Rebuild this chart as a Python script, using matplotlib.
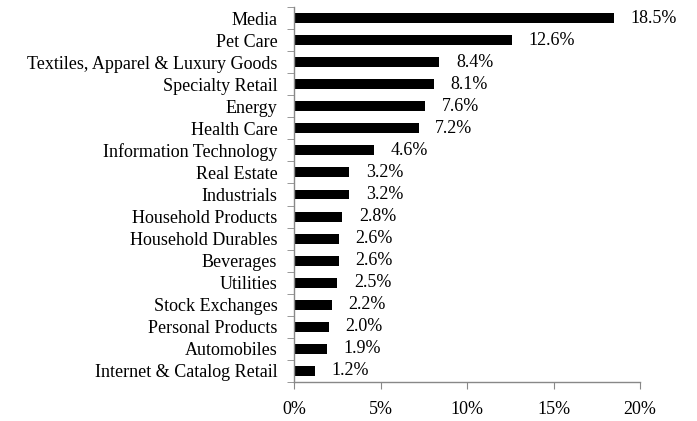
import matplotlib
matplotlib.use("Agg")
import matplotlib.pyplot as plt
import numpy as np
from matplotlib.ticker import FixedLocator

categories = ["Media", "Pet Care", "Textiles, Apparel & Luxury Goods", "Specialty Retail",
              "Energy", "Health Care", "Information Technology", "Real Estate", "Industrials",
              "Household Products", "Household Durables", "Beverages", "Utilities",
              "Stock Exchanges", "Personal Products", "Automobiles", "Internet & Catalog Retail"]
values = [18.5, 12.6, 8.4, 8.1, 7.6, 7.2, 4.6, 3.2, 3.2, 2.8, 2.6, 2.6, 2.5, 2.2, 2.0, 1.9, 1.2]
xticks = [0, 5, 10, 15, 20]
xticklabels = ["0%", "5%", "10%", "15%", "20%"]

plt.rcParams['font.family'] = ['Liberation Serif', 'DejaVu Serif']

fig = plt.figure(figsize=(6.97, 4.21), dpi=100)
ax = fig.add_axes([294/697, 1-382/421, (640-294)/697, (382-7)/421])

n = len(categories)
y = np.arange(n)
ax.barh(y, values, height=0.45, color='black')
ax.set_ylim(n - 0.5, -0.5)
ax.set_xlim(0, 20)

ax.set_yticks(y)
ax.set_yticklabels(categories, fontsize=13)
ax.yaxis.set_minor_locator(FixedLocator(np.arange(-0.5, n, 1.0)))
ax.tick_params(axis='y', which='major', length=0, pad=12)
ax.tick_params(axis='y', which='minor', length=5, color='#888888', direction='out')

ax.set_xticks(xticks)
ax.set_xticklabels(xticklabels, fontsize=13)
ax.tick_params(axis='x', length=5, color='#888888', direction='out', pad=9)

for s in ['top', 'right']:
    ax.spines[s].set_visible(False)
for s in ['left', 'bottom']:
    ax.spines[s].set_color('#888888')
    ax.spines[s].set_linewidth(1.0)

for yi, v in zip(y, values):
    ax.annotate(f"{v:.1f}%", xy=(v, yi), xytext=(12, 0), textcoords='offset points',
                va='center', ha='left', fontsize=13)

fig.savefig("out.png", dpi=100)
